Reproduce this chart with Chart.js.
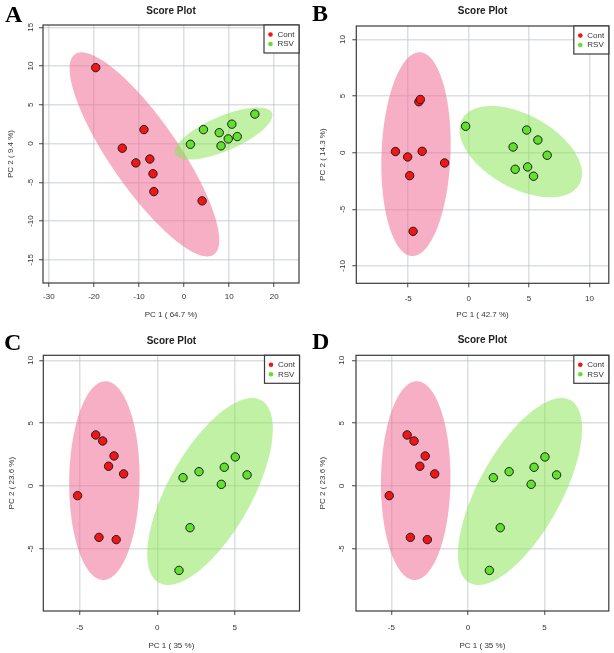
<!DOCTYPE html>
<html><head><meta charset="utf-8">
<script src="https://cdn.jsdelivr.net/npm/chart.js@4.4.0/dist/chart.umd.min.js"></script>
<style>
body{margin:0;background:#fff;width:614px;height:653px;position:relative;overflow:hidden}
canvas{position:absolute}
.letter{position:absolute;font-family:"Liberation Serif","DejaVu Serif",serif;font-weight:bold;font-size:24px;line-height:24px;color:#000}
</style></head><body>
<canvas id="cA" width="307" height="326" style="left:0;top:0"></canvas>
<canvas id="cB" width="307" height="326" style="left:307px;top:0"></canvas>
<canvas id="cC" width="307" height="327" style="left:0;top:326px"></canvas>
<canvas id="cD" width="307" height="327" style="left:307px;top:326px"></canvas>
<div class="letter" style="left:5px;top:2px">A</div>
<div class="letter" style="left:312px;top:1px">B</div>
<div class="letter" style="left:4px;top:330px">C</div>
<div class="letter" style="left:312px;top:329px">D</div>
<script>
// ---- data ----
const GROUPS = ['Cont', 'RSV'];

const CONT_A = [[-19.6,9.8],[-8.9,1.8],[-13.7,-0.6],[-10.7,-2.5],[-7.6,-2.0],[-6.9,-3.9],[-6.7,-6.2],[4.0,-7.4]];
const RSV_A  = [[1.4,-0.1],[4.3,1.8],[7.8,1.4],[8.2,-0.3],[9.8,0.6],[10.6,2.5],[11.8,0.9],[15.7,3.8]];
const CONT_B = [[-6.06,0.1],[-5.05,-0.38],[-4.88,-2.03],[-4.12,4.5],[-4.0,4.7],[-3.85,0.12],[-1.99,-0.91],[-4.6,-6.95]];
const RSV_B  = [[-0.25,2.33],[3.68,0.5],[4.8,2.0],[5.73,1.12],[6.5,-0.23],[3.85,-1.47],[4.88,-1.26],[5.37,-2.08]];
const CONT_C = [[-3.97,4.06],[-3.52,3.58],[-2.79,2.39],[-3.14,1.57],[-2.17,0.96],[-5.14,-0.77],[-3.76,-4.09],[-2.65,-4.27]];
const RSV_C  = [[1.66,0.66],[2.69,1.14],[2.11,-3.32],[1.4,-6.72],[4.13,0.13],[4.32,1.49],[5.03,2.31],[5.79,0.88]];
const CONT_D = [[-3.97,4.06],[-3.52,3.58],[-2.79,2.39],[-3.14,1.57],[-2.17,0.96],[-5.14,-0.77],[-3.76,-4.09],[-2.65,-4.27]];
const RSV_D  = [[1.66,0.66],[2.69,1.14],[2.11,-3.32],[1.4,-6.72],[4.13,0.13],[4.32,1.49],[5.03,2.31],[5.79,0.88]];

// confidence ellipses: [centerX, centerY, halfWidthX, halfHeightY, correlation]
const ELL_A = [[-8.8,-1.4,16.6,13.17,-0.84],[8.77,1.29,10.83,3.36,0.70]];
const ELL_B = [[-4.36,-0.13,2.87,9.0,0.10],[4.31,0.09,5.07,4.03,-0.48]];
const ELL_C = [[-3.41,0.43,2.27,7.91,0.03],[3.40,-0.44,4.05,7.44,0.67]];
const ELL_D = [[-3.41,0.43,2.27,7.91,0.03],[3.40,-0.44,4.05,7.44,0.67]];

const XTICKS_A = [-30,-20,-10,0,10,20];
const YTICKS_A = [-15,-10,-5,0,5,10,15];
const XTICKS_B = [-5,0,5,10];
const YTICKS_B = [-10,-5,0,5,10];
const XTICKS_CD = [-5,0,5];
const YTICKS_CD = [-5,0,5,10];

const XTITLE_A = 'PC 1 ( 64.7 %)', YTITLE_A = 'PC 2 ( 9.4 %)';
const XTITLE_B = 'PC 1 ( 42.7 %)', YTITLE_B = 'PC 2 ( 14.3 %)';
const XTITLE_CD = 'PC 1 ( 35 %)', YTITLE_CD = 'PC 2 ( 23.6 %)';
const PLOT_TITLE = 'Score Plot';

// ---- styles ----
const RED = '#f51414', GREEN = '#62e02e';
const ELL_FILLS = ['rgba(240,110,150,0.55)', 'rgba(140,230,90,0.55)'];
const GRID = 'rgba(190,197,202,0.55)';
const TXT = '#333';

Chart.defaults.font.family = '"Liberation Sans", Arial, sans-serif';
Chart.defaults.color = TXT;

const extras = {
  id: 'extras',
  beforeDatasetsDraw(chart, args, opts) {
    const {ctx, chartArea: ca, scales: {x, y}} = chart;
    ctx.save();
    ctx.beginPath(); ctx.rect(ca.left, ca.top, ca.right - ca.left, ca.bottom - ca.top); ctx.clip();
    opts.ellipses.forEach((e, i) => {
      const [cx, cy, w, h, r] = e;
      const s = Math.sqrt(1 - r * r);
      ctx.beginPath();
      for (let k = 0; k <= 180; k++) {
        const t = k / 180 * Math.PI * 2;
        const px = x.getPixelForValue(cx + w * Math.cos(t));
        const py = y.getPixelForValue(cy + h * (Math.cos(t) * r + Math.sin(t) * s));
        k ? ctx.lineTo(px, py) : ctx.moveTo(px, py);
      }
      ctx.closePath();
      ctx.fillStyle = ELL_FILLS[i];
      ctx.fill();
    });
    ctx.restore();
  },
  afterDraw(chart) {
    const {ctx, chartArea: ca} = chart;
    ctx.save();
    ctx.strokeStyle = '#3a3a3a'; ctx.lineWidth = 1.2;
    ctx.strokeRect(ca.left, ca.top, ca.right - ca.left, ca.bottom - ca.top);
    const lw = 35, lh = 28;
    const lx = ca.right - lw, ly = ca.top;
    ctx.fillStyle = '#fff'; ctx.fillRect(lx, ly, lw, lh); ctx.strokeRect(lx, ly, lw, lh);
    chart.data.datasets.forEach((ds, i) => {
      const yy = ly + 9.5 + i * 9.5;
      ctx.beginPath(); ctx.arc(lx + 6.5, yy, 2.3, 0, Math.PI * 2);
      ctx.fillStyle = ds.backgroundColor; ctx.fill();
      ctx.fillStyle = TXT; ctx.font = '8px "Liberation Sans", Arial, sans-serif';
      ctx.textBaseline = 'middle'; ctx.textAlign = 'left';
      ctx.fillText(ds.label, lx + 13.5, yy);
    });
    ctx.restore();
  }
};

function toPts(arr) { return arr.map(([x, y]) => ({x, y})); }

function panel(p) {
  new Chart(document.getElementById(p.id), {
    type: 'scatter',
    data: {
      datasets: [
        {label: GROUPS[0], data: toPts(p.cont), backgroundColor: RED, borderColor: '#1c1c1c', borderWidth: 1, pointRadius: 4.2},
        {label: GROUPS[1], data: toPts(p.rsv), backgroundColor: GREEN, borderColor: '#1c1c1c', borderWidth: 1, pointRadius: 4.2}
      ]
    },
    options: {
      responsive: false, animation: false, devicePixelRatio: 1,
      layout: {padding: {left: 0, right: p.pr, top: 0, bottom: 0}},
      plugins: {
        legend: {display: false}, tooltip: {enabled: false},
        title: {display: true, text: PLOT_TITLE, fullSize: false, color: '#222',
                font: {size: 10, weight: 'bold'}, padding: p.titlePad},
        extras: {ellipses: p.ell}
      },
      scales: {
        x: {
          type: 'linear', min: p.xr[0], max: p.xr[1],
          afterBuildTicks: s => { s.ticks = p.xt.map(v => ({value: v})); },
          afterFit: s => { s.height = p.xh; },
          grid: {color: GRID, lineWidth: 1.5, tickLength: 4, tickColor: '#444', tickWidth: 1},
          border: {display: false},
          ticks: {padding: p.xTickPad, color: TXT, font: {size: 8}, minRotation: 0, maxRotation: 0, callback: v => String(v)},
          title: {display: true, text: p.xtitle, color: TXT, font: {size: 8}, padding: {top: 0, bottom: p.xTitlePad}}
        },
        y: {
          type: 'linear', min: p.yr[0], max: p.yr[1],
          afterBuildTicks: s => { s.ticks = p.yt.map(v => ({value: v})); },
          afterFit: s => { s.width = p.yw; },
          grid: {color: GRID, lineWidth: 1.5, tickLength: 4, tickColor: '#444', tickWidth: 1},
          border: {display: false},
          ticks: {padding: p.yTickPad, crossAlign: 'center', color: TXT, font: {size: 8}, minRotation: 90, maxRotation: 90, callback: v => String(v)},
          title: {display: true, text: p.ytitle, color: TXT, font: {size: 8}, padding: {top: p.yTitlePad, bottom: 0}}
        }
      }
    },
    plugins: [extras]
  });
}

panel({id: 'cA', cont: CONT_A, rsv: RSV_A, ell: ELL_A, xt: XTICKS_A, yt: YTICKS_A,
  xr: [-31.3, 25.5], yr: [-18.0, 15.3], xtitle: XTITLE_A, ytitle: YTITLE_A,
  pr: 8, xh: 43, yw: 43, titlePad: {top: 5, bottom: 8}, xTickPad: 5, xTitlePad: 6, yTickPad: 2.2, yTitlePad: 6});
panel({id: 'cB', cont: CONT_B, rsv: RSV_B, ell: ELL_B, xt: XTICKS_B, yt: YTICKS_B,
  xr: [-9.3, 11.6], yr: [-11.54, 11.19], xtitle: XTITLE_B, ytitle: YTITLE_B,
  pr: 2.3, xh: 42.7, yw: 49.3, titlePad: {top: 5, bottom: 9}, xTickPad: 6.2, xTitlePad: 6.2, yTickPad: 3.5, yTitlePad: 11.2});
panel({id: 'cC', cont: CONT_C, rsv: RSV_C, ell: ELL_C, xt: XTICKS_CD, yt: YTICKS_CD,
  xr: [-7.35, 9.17], yr: [-9.95, 10.4], xtitle: XTITLE_CD, ytitle: YTITLE_CD,
  pr: 7.5, xh: 42, yw: 43.3, titlePad: {top: 9, bottom: 8.3}, xTickPad: 7.9, xTitlePad: 2.2, yTickPad: 4, yTitlePad: 6.9});
panel({id: 'cD', cont: CONT_D, rsv: RSV_D, ell: ELL_D, xt: XTICKS_CD, yt: YTICKS_CD,
  xr: [-7.31, 9.2], yr: [-9.95, 10.4], xtitle: XTITLE_CD, ytitle: YTITLE_CD,
  pr: 2, xh: 42, yw: 49, titlePad: {top: 8, bottom: 9.3}, xTickPad: 7.9, xTitlePad: 2.2, yTickPad: 5.4, yTitlePad: 11.2});
</script>
</body></html>
